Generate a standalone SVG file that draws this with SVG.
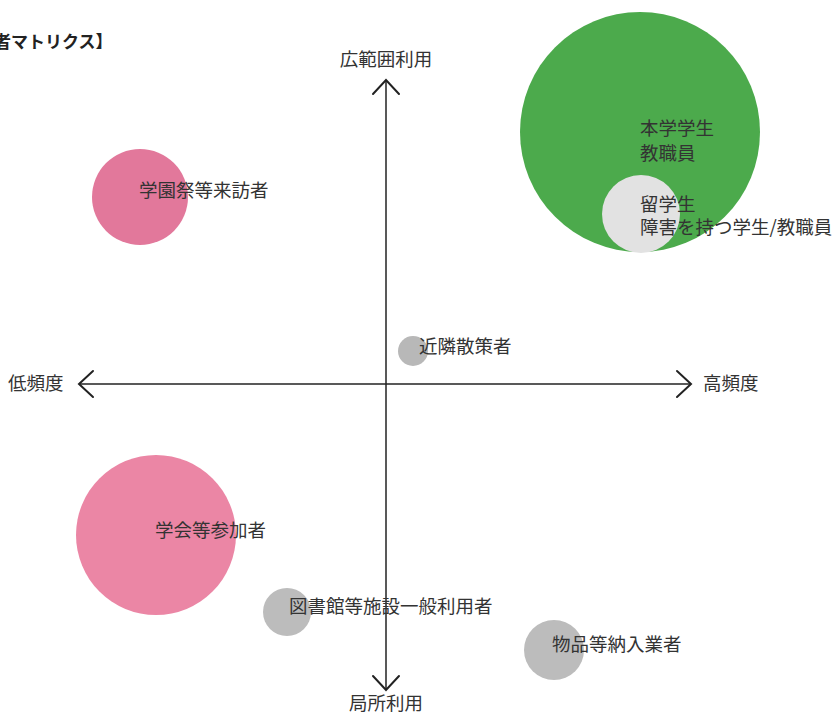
<svg xmlns="http://www.w3.org/2000/svg" width="834" height="715" viewBox="0 0 834 715">
<style>
.t{font-family:"Noto Sans CJK JP","Noto Sans CJK SC",sans-serif;font-size:18.5px;fill:#333;}
.ax{stroke:#222;stroke-width:1.5;fill:none;}
.ah{stroke:#222;stroke-width:2;fill:none;stroke-linecap:round;stroke-linejoin:miter;}
.title{font-family:"Noto Sans CJK JP",sans-serif;font-size:17px;font-weight:bold;fill:#222;}
</style>
<rect width="834" height="715" fill="#ffffff"/>
<text class="title" x="-6" y="48">者マトリクス】</text>
<g id="axes">
<line class="ax" x1="386" y1="80" x2="386" y2="690"/>
<line class="ax" x1="79" y1="384" x2="691" y2="384"/>
<polyline class="ah" points="373,94 386,80 399,94"/>
<polyline class="ah" points="373,676 386,690 399,676"/>
<polyline class="ah" points="93,371 79,384 93,397"/>
<polyline class="ah" points="677,371 691,384 677,397"/>
<text class="t" x="386" y="66" text-anchor="middle">広範囲利用</text>
<text class="t" x="386" y="710" text-anchor="middle">局所利用</text>
<text class="t" x="8" y="390">低頻度</text>
<text class="t" x="703" y="390">高頻度</text>
</g>
<g id="honbu">
<circle cx="640" cy="132" r="120" fill="#4caa4c"/>
<text class="t" x="640" y="135">本学学生</text>
<text class="t" x="640" y="160">教職員</text>
</g>
<g id="ryugaku">
<circle cx="641" cy="214" r="39" fill="#e2e2e2"/>
<text class="t" x="640" y="211">留学生</text>
<text class="t" x="640" y="234">障害を持つ学生/教職員</text>
</g>
<g id="gakuensai">
<circle cx="140" cy="197" r="48" fill="#e2789b"/>
<text class="t" x="139" y="197">学園祭等来訪者</text>
</g>
<g id="kinrin">
<circle cx="413" cy="351" r="15" fill="#b8b8b8"/>
<text class="t" x="419" y="353">近隣散策者</text>
</g>
<g id="gakkai">
<circle cx="156" cy="535" r="80" fill="#eb86a5"/>
<text class="t" x="155" y="537">学会等参加者</text>
</g>
<g id="toshokan">
<circle cx="287" cy="612" r="24" fill="#bcbcbc"/>
<text class="t" x="289" y="613">図書館等施設一般利用者</text>
</g>
<g id="nonyu">
<circle cx="554" cy="650" r="30" fill="#bcbcbc"/>
<text class="t" x="552" y="651">物品等納入業者</text>
</g>
</svg>
